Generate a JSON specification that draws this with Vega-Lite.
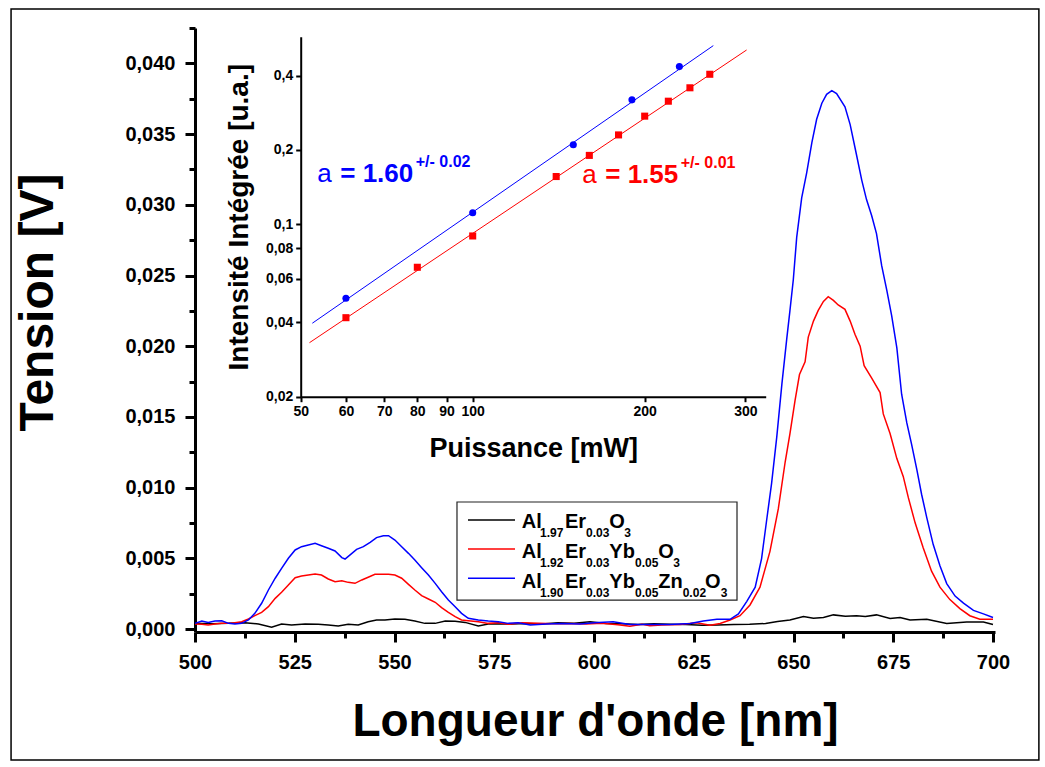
{
  "$schema": "https://vega.github.io/schema/vega-lite/v6.json",
  "width": 800,
  "height": 604,
  "autosize": {"type": "none"},
  "padding": {"left": 195, "top": 28, "right": 50, "bottom": 135},
  "background": "white",
  "config": {
    "view": {"stroke": null},
    "font": "Liberation Sans",
    "axis": {"grid": false, "domainColor": "black", "tickColor": "black", "labelColor": "black", "titleColor": "black", "labelFontWeight": "bold", "titleFontWeight": "bold", "labelFont": "Liberation Sans", "titleFont": "Liberation Sans", "labelFlush": false, "labelOverlap": false}
  },
  "datasets": {
    "spectra": [
      {"s":"AlEr","x":500,"y":0.00041},{"s":"AlEr","x":504.2,"y":0.00039},{"s":"AlEr","x":508.4,"y":0.00041},{"s":"AlEr","x":512.5,"y":0.00046},{"s":"AlEr","x":515.9,"y":0.00037},{"s":"AlEr","x":519.2,"y":0.00013},{"s":"AlEr","x":521.7,"y":0.00037},{"s":"AlEr","x":524.2,"y":0.0003},{"s":"AlEr","x":527.6,"y":0.00037},{"s":"AlEr","x":530.9,"y":0.00034},{"s":"AlEr","x":533.4,"y":0.0003},{"s":"AlEr","x":535.9,"y":0.00023},{"s":"AlEr","x":538.4,"y":0.00034},{"s":"AlEr","x":540.9,"y":0.0003},{"s":"AlEr","x":543.4,"y":0.00053},{"s":"AlEr","x":545.5,"y":0.00065},{"s":"AlEr","x":547.6,"y":0.00065},{"s":"AlEr","x":550.1,"y":0.00072},{"s":"AlEr","x":552.6,"y":0.0007},{"s":"AlEr","x":555.1,"y":0.00058},{"s":"AlEr","x":557.6,"y":0.00041},{"s":"AlEr","x":560.2,"y":0.00041},{"s":"AlEr","x":562.7,"y":0.00058},{"s":"AlEr","x":565.2,"y":0.00056},{"s":"AlEr","x":567.7,"y":0.00048},{"s":"AlEr","x":571,"y":0.00023},{"s":"AlEr","x":573.5,"y":0.00037},{"s":"AlEr","x":576.9,"y":0.00039},{"s":"AlEr","x":579.4,"y":0.00037},{"s":"AlEr","x":583,"y":0.0004},{"s":"AlEr","x":587,"y":0.00036},{"s":"AlEr","x":591,"y":0.00045},{"s":"AlEr","x":595,"y":0.00042},{"s":"AlEr","x":599,"y":0.00052},{"s":"AlEr","x":603,"y":0.0004},{"s":"AlEr","x":607,"y":0.00038},{"s":"AlEr","x":611,"y":0.00033},{"s":"AlEr","x":615,"y":0.00038},{"s":"AlEr","x":619,"y":0.00035},{"s":"AlEr","x":623,"y":0.00033},{"s":"AlEr","x":627,"y":0.00028},{"s":"AlEr","x":631,"y":0.0003},{"s":"AlEr","x":635,"y":0.00033},{"s":"AlEr","x":639,"y":0.00035},{"s":"AlEr","x":643,"y":0.0004},{"s":"AlEr","x":646,"y":0.00055},{"s":"AlEr","x":649.1,"y":0.00065},{"s":"AlEr","x":652.5,"y":0.0009},{"s":"AlEr","x":655,"y":0.00078},{"s":"AlEr","x":657.5,"y":0.00083},{"s":"AlEr","x":660,"y":0.00101},{"s":"AlEr","x":663,"y":0.00092},{"s":"AlEr","x":665.8,"y":0.00095},{"s":"AlEr","x":668,"y":0.0009},{"s":"AlEr","x":670.8,"y":0.00101},{"s":"AlEr","x":674.2,"y":0.00075},{"s":"AlEr","x":676.7,"y":0.00083},{"s":"AlEr","x":679.2,"y":0.00065},{"s":"AlEr","x":683.4,"y":0.0007},{"s":"AlEr","x":688.4,"y":0.0004},{"s":"AlEr","x":693.4,"y":0.00051},{"s":"AlEr","x":697.6,"y":0.00051},{"s":"AlEr","x":700,"y":0.00033},
      {"s":"AlErYb","x":500,"y":0.00037},{"s":"AlErYb","x":501.7,"y":0.00034},{"s":"AlErYb","x":503.3,"y":0.0003},{"s":"AlErYb","x":505,"y":0.00037},{"s":"AlErYb","x":506.7,"y":0.00041},{"s":"AlErYb","x":508.4,"y":0.00041},{"s":"AlErYb","x":510,"y":0.00046},{"s":"AlErYb","x":511.7,"y":0.00053},{"s":"AlErYb","x":513.4,"y":0.00072},{"s":"AlErYb","x":515,"y":0.00096},{"s":"AlErYb","x":516.7,"y":0.00119},{"s":"AlErYb","x":518.4,"y":0.00159},{"s":"AlErYb","x":520.1,"y":0.00218},{"s":"AlErYb","x":521.7,"y":0.00261},{"s":"AlErYb","x":523.4,"y":0.00312},{"s":"AlErYb","x":525.1,"y":0.00364},{"s":"AlErYb","x":526.7,"y":0.00376},{"s":"AlErYb","x":528.4,"y":0.00383},{"s":"AlErYb","x":530.1,"y":0.0039},{"s":"AlErYb","x":531.7,"y":0.00383},{"s":"AlErYb","x":533.4,"y":0.00355},{"s":"AlErYb","x":535.1,"y":0.00336},{"s":"AlErYb","x":536.8,"y":0.00343},{"s":"AlErYb","x":538.4,"y":0.00331},{"s":"AlErYb","x":540.1,"y":0.00324},{"s":"AlErYb","x":541.8,"y":0.00348},{"s":"AlErYb","x":543.4,"y":0.00367},{"s":"AlErYb","x":545.1,"y":0.00388},{"s":"AlErYb","x":546.8,"y":0.00388},{"s":"AlErYb","x":548.5,"y":0.00388},{"s":"AlErYb","x":550.1,"y":0.00383},{"s":"AlErYb","x":551.8,"y":0.0036},{"s":"AlErYb","x":553.5,"y":0.00317},{"s":"AlErYb","x":555.1,"y":0.00277},{"s":"AlErYb","x":556.8,"y":0.00237},{"s":"AlErYb","x":558.5,"y":0.00213},{"s":"AlErYb","x":560.2,"y":0.0019},{"s":"AlErYb","x":561.8,"y":0.00152},{"s":"AlErYb","x":563.5,"y":0.00119},{"s":"AlErYb","x":565.2,"y":0.00088},{"s":"AlErYb","x":566.8,"y":0.00065},{"s":"AlErYb","x":568.5,"y":0.0006},{"s":"AlErYb","x":571,"y":0.00053},{"s":"AlErYb","x":573.5,"y":0.00041},{"s":"AlErYb","x":576,"y":0.00046},{"s":"AlErYb","x":578.5,"y":0.00034},{"s":"AlErYb","x":582,"y":0.00045},{"s":"AlErYb","x":586,"y":0.00042},{"s":"AlErYb","x":590,"y":0.00038},{"s":"AlErYb","x":594,"y":0.0004},{"s":"AlErYb","x":598,"y":0.00036},{"s":"AlErYb","x":602,"y":0.00042},{"s":"AlErYb","x":606,"y":0.00032},{"s":"AlErYb","x":609,"y":0.00021},{"s":"AlErYb","x":612,"y":0.00035},{"s":"AlErYb","x":614,"y":0.00025},{"s":"AlErYb","x":617,"y":0.0003},{"s":"AlErYb","x":621.5,"y":0.00033},{"s":"AlErYb","x":625.7,"y":0.00045},{"s":"AlErYb","x":629.1,"y":0.00027},{"s":"AlErYb","x":631.6,"y":0.0004},{"s":"AlErYb","x":634.1,"y":0.00065},{"s":"AlErYb","x":636.6,"y":0.00095},{"s":"AlErYb","x":639.1,"y":0.00171},{"s":"AlErYb","x":641.6,"y":0.00297},{"s":"AlErYb","x":644.1,"y":0.0055},{"s":"AlErYb","x":646.2,"y":0.00852},{"s":"AlErYb","x":647.9,"y":0.0118},{"s":"AlErYb","x":649.1,"y":0.0138},{"s":"AlErYb","x":650.4,"y":0.0162},{"s":"AlErYb","x":651.5,"y":0.018},{"s":"AlErYb","x":652.9,"y":0.0189},{"s":"AlErYb","x":653.7,"y":0.02065},{"s":"AlErYb","x":655,"y":0.02178},{"s":"AlErYb","x":656.2,"y":0.02254},{"s":"AlErYb","x":657.5,"y":0.02317},{"s":"AlErYb","x":658.7,"y":0.0235},{"s":"AlErYb","x":660,"y":0.02324},{"s":"AlErYb","x":661.2,"y":0.02292},{"s":"AlErYb","x":662.9,"y":0.02261},{"s":"AlErYb","x":664.2,"y":0.02178},{"s":"AlErYb","x":665.4,"y":0.02085},{"s":"AlErYb","x":666.7,"y":0.02001},{"s":"AlErYb","x":667.7,"y":0.01863},{"s":"AlErYb","x":669.6,"y":0.01774},{"s":"AlErYb","x":671.7,"y":0.01673},{"s":"AlErYb","x":672.5,"y":0.01522},{"s":"AlErYb","x":674.2,"y":0.01383},{"s":"AlErYb","x":675.9,"y":0.01206},{"s":"AlErYb","x":677.5,"y":0.0108},{"s":"AlErYb","x":678.8,"y":0.00928},{"s":"AlErYb","x":680.5,"y":0.0075},{"s":"AlErYb","x":682.5,"y":0.00575},{"s":"AlErYb","x":684.6,"y":0.0041},{"s":"AlErYb","x":686.7,"y":0.00297},{"s":"AlErYb","x":689.2,"y":0.00209},{"s":"AlErYb","x":691.7,"y":0.00145},{"s":"AlErYb","x":694.2,"y":0.00095},{"s":"AlErYb","x":696.7,"y":0.0007},{"s":"AlErYb","x":700,"y":0.0007},
      {"s":"AlErYbZn","x":500,"y":0.00041},{"s":"AlErYbZn","x":501.7,"y":0.00058},{"s":"AlErYbZn","x":503.3,"y":0.00048},{"s":"AlErYbZn","x":505,"y":0.00058},{"s":"AlErYbZn","x":506.7,"y":0.0006},{"s":"AlErYbZn","x":508.4,"y":0.00041},{"s":"AlErYbZn","x":510,"y":0.00037},{"s":"AlErYbZn","x":511.7,"y":0.00041},{"s":"AlErYbZn","x":513.4,"y":0.00065},{"s":"AlErYbZn","x":515,"y":0.00112},{"s":"AlErYbZn","x":516.7,"y":0.00183},{"s":"AlErYbZn","x":518.4,"y":0.00277},{"s":"AlErYbZn","x":520.1,"y":0.0036},{"s":"AlErYbZn","x":521.7,"y":0.0043},{"s":"AlErYbZn","x":523.4,"y":0.00501},{"s":"AlErYbZn","x":525.1,"y":0.0056},{"s":"AlErYbZn","x":526.7,"y":0.00583},{"s":"AlErYbZn","x":528.4,"y":0.00595},{"s":"AlErYbZn","x":530.1,"y":0.00607},{"s":"AlErYbZn","x":531.7,"y":0.0059},{"s":"AlErYbZn","x":533.4,"y":0.00572},{"s":"AlErYbZn","x":535.1,"y":0.00553},{"s":"AlErYbZn","x":536.8,"y":0.00506},{"s":"AlErYbZn","x":537.6,"y":0.00496},{"s":"AlErYbZn","x":538.8,"y":0.00524},{"s":"AlErYbZn","x":540.5,"y":0.00564},{"s":"AlErYbZn","x":542.2,"y":0.00583},{"s":"AlErYbZn","x":543.9,"y":0.00614},{"s":"AlErYbZn","x":545.5,"y":0.00647},{"s":"AlErYbZn","x":547.2,"y":0.00661},{"s":"AlErYbZn","x":548.5,"y":0.00661},{"s":"AlErYbZn","x":550.1,"y":0.0063},{"s":"AlErYbZn","x":551.8,"y":0.00583},{"s":"AlErYbZn","x":553.5,"y":0.00536},{"s":"AlErYbZn","x":555.1,"y":0.00489},{"s":"AlErYbZn","x":556.8,"y":0.00435},{"s":"AlErYbZn","x":558.5,"y":0.00383},{"s":"AlErYbZn","x":560.2,"y":0.00324},{"s":"AlErYbZn","x":561.8,"y":0.00265},{"s":"AlErYbZn","x":563.5,"y":0.00206},{"s":"AlErYbZn","x":565.2,"y":0.00159},{"s":"AlErYbZn","x":566.8,"y":0.00112},{"s":"AlErYbZn","x":568.5,"y":0.00077},{"s":"AlErYbZn","x":571,"y":0.00065},{"s":"AlErYbZn","x":573.5,"y":0.00058},{"s":"AlErYbZn","x":576,"y":0.00053},{"s":"AlErYbZn","x":578.5,"y":0.00041},{"s":"AlErYbZn","x":581,"y":0.00045},{"s":"AlErYbZn","x":584,"y":0.00029},{"s":"AlErYbZn","x":588,"y":0.00036},{"s":"AlErYbZn","x":592,"y":0.0004},{"s":"AlErYbZn","x":596.5,"y":0.00036},{"s":"AlErYbZn","x":600,"y":0.00045},{"s":"AlErYbZn","x":604.8,"y":0.00052},{"s":"AlErYbZn","x":609,"y":0.00033},{"s":"AlErYbZn","x":614,"y":0.00033},{"s":"AlErYbZn","x":619,"y":0.00033},{"s":"AlErYbZn","x":624.1,"y":0.0004},{"s":"AlErYbZn","x":627.4,"y":0.00057},{"s":"AlErYbZn","x":630.8,"y":0.0007},{"s":"AlErYbZn","x":634.1,"y":0.0007},{"s":"AlErYbZn","x":636.2,"y":0.00108},{"s":"AlErYbZn","x":638.3,"y":0.00197},{"s":"AlErYbZn","x":640.4,"y":0.00297},{"s":"AlErYbZn","x":642,"y":0.00499},{"s":"AlErYbZn","x":643.3,"y":0.00777},{"s":"AlErYbZn","x":644.5,"y":0.01029},{"s":"AlErYbZn","x":645.8,"y":0.01358},{"s":"AlErYbZn","x":647.1,"y":0.01736},{"s":"AlErYbZn","x":648.3,"y":0.0205},{"s":"AlErYbZn","x":649.1,"y":0.0225},{"s":"AlErYbZn","x":649.95,"y":0.0247},{"s":"AlErYbZn","x":650.8,"y":0.0277},{"s":"AlErYbZn","x":652.05,"y":0.03049},{"s":"AlErYbZn","x":653.3,"y":0.03226},{"s":"AlErYbZn","x":654.6,"y":0.0344},{"s":"AlErYbZn","x":655.8,"y":0.03605},{"s":"AlErYbZn","x":657.1,"y":0.03718},{"s":"AlErYbZn","x":658.3,"y":0.03781},{"s":"AlErYbZn","x":659.6,"y":0.03807},{"s":"AlErYbZn","x":660.8,"y":0.03786},{"s":"AlErYbZn","x":662.9,"y":0.03693},{"s":"AlErYbZn","x":664.2,"y":0.03567},{"s":"AlErYbZn","x":665.8,"y":0.03352},{"s":"AlErYbZn","x":667.1,"y":0.03175},{"s":"AlErYbZn","x":668.3,"y":0.03037},{"s":"AlErYbZn","x":669.6,"y":0.02923},{"s":"AlErYbZn","x":670.8,"y":0.02796},{"s":"AlErYbZn","x":672.1,"y":0.0257},{"s":"AlErYbZn","x":673.4,"y":0.02393},{"s":"AlErYbZn","x":674.6,"y":0.02216},{"s":"AlErYbZn","x":675.9,"y":0.01989},{"s":"AlErYbZn","x":677.1,"y":0.01661},{"s":"AlErYbZn","x":678.4,"y":0.01458},{"s":"AlErYbZn","x":679.6,"y":0.01307},{"s":"AlErYbZn","x":680.9,"y":0.0113},{"s":"AlErYbZn","x":682.1,"y":0.00954},{"s":"AlErYbZn","x":683.4,"y":0.00789},{"s":"AlErYbZn","x":685,"y":0.006},{"s":"AlErYbZn","x":686.7,"y":0.00449},{"s":"AlErYbZn","x":688.4,"y":0.00322},{"s":"AlErYbZn","x":690.5,"y":0.00234},{"s":"AlErYbZn","x":692.6,"y":0.00184},{"s":"AlErYbZn","x":695.1,"y":0.00133},{"s":"AlErYbZn","x":697.6,"y":0.00108},{"s":"AlErYbZn","x":700,"y":0.00083}
    ],
    "frame": [{"x": 453.9, "x2": 711.5, "y": 0.04384, "y2": -0.00925}],
    "legendBox": [{"x": 565.66, "x2": 635.84, "y": 0.00899, "y2": 0.00206}],
    "legendLines": [
      {"s": "AlEr", "x": 568.42, "x2": 580.2, "y": 0.00772},
      {"s": "AlErYb", "x": 568.42, "x2": 580.2, "y": 0.00567},
      {"s": "AlErYbZn", "x": 568.42, "x2": 580.2, "y": 0.0036}
    ],
    "legendText": [
      {"row": 1, "k": "m", "t": "Al", "x": 581.88, "y": 0.00715},
      {"row": 1, "k": "s", "t": "1.97", "x": 586.47, "y": 0.00715},
      {"row": 1, "k": "m", "t": "Er", "x": 592.73, "y": 0.00715},
      {"row": 1, "k": "s", "t": "0.03", "x": 597.99, "y": 0.00715},
      {"row": 1, "k": "m", "t": "O", "x": 603.84, "y": 0.00715},
      {"row": 1, "k": "s", "t": "3", "x": 607.59, "y": 0.00715},
      {"row": 2, "k": "m", "t": "Al", "x": 581.88, "y": 0.00503},
      {"row": 2, "k": "s", "t": "1.92", "x": 586.47, "y": 0.00503},
      {"row": 2, "k": "m", "t": "Er", "x": 592.73, "y": 0.00503},
      {"row": 2, "k": "s", "t": "0.03", "x": 597.99, "y": 0.00503},
      {"row": 2, "k": "m", "t": "Yb", "x": 603.84, "y": 0.00503},
      {"row": 2, "k": "s", "t": "0.05", "x": 610.28, "y": 0.00503},
      {"row": 2, "k": "m", "t": "O", "x": 616.12, "y": 0.00503},
      {"row": 2, "k": "s", "t": "3", "x": 619.87, "y": 0.00503},
      {"row": 3, "k": "m", "t": "Al", "x": 581.88, "y": 0.00291},
      {"row": 3, "k": "s", "t": "1.90", "x": 586.47, "y": 0.00291},
      {"row": 3, "k": "m", "t": "Er", "x": 592.73, "y": 0.00291},
      {"row": 3, "k": "s", "t": "0.03", "x": 597.99, "y": 0.00291},
      {"row": 3, "k": "m", "t": "Yb", "x": 603.84, "y": 0.00291},
      {"row": 3, "k": "s", "t": "0.05", "x": 610.28, "y": 0.00291},
      {"row": 3, "k": "m", "t": "Zn", "x": 616.12, "y": 0.00291},
      {"row": 3, "k": "s", "t": "0.02", "x": 622.23, "y": 0.00291},
      {"row": 3, "k": "m", "t": "O", "x": 627.82, "y": 0.00291},
      {"row": 3, "k": "s", "t": "3", "x": 631.75, "y": 0.00291}
    ],
    "minor": [{"x": 600, "y": 0.02}],
    "power": [
      {"s": "AlErYbZn", "p": 60, "i": 0.0501},
      {"s": "AlErYbZn", "p": 100, "i": 0.1113},
      {"s": "AlErYbZn", "p": 150, "i": 0.2099},
      {"s": "AlErYbZn", "p": 190, "i": 0.319},
      {"s": "AlErYbZn", "p": 230, "i": 0.435},
      {"s": "AlErYb", "p": 60, "i": 0.0418},
      {"s": "AlErYb", "p": 80, "i": 0.0669},
      {"s": "AlErYb", "p": 100, "i": 0.0896},
      {"s": "AlErYb", "p": 140, "i": 0.156},
      {"s": "AlErYb", "p": 160, "i": 0.19},
      {"s": "AlErYb", "p": 180, "i": 0.23},
      {"s": "AlErYb", "p": 200, "i": 0.274},
      {"s": "AlErYb", "p": 220, "i": 0.315},
      {"s": "AlErYb", "p": 240, "i": 0.357},
      {"s": "AlErYb", "p": 260, "i": 0.405}
    ],
    "fits": [
      {"s": "AlErYbZn", "p": 52.4, "i": 0.0397},
      {"s": "AlErYbZn", "p": 263.7, "i": 0.529},
      {"s": "AlErYb", "p": 51.8, "i": 0.0331},
      {"s": "AlErYb", "p": 301.6, "i": 0.508}
    ],
    "slopes": [
      {"s": "AlErYbZn", "p": 53.45, "i": 0.1486, "a": "a", "val": "= 1.60", "err": "+/- 0.02"},
      {"s": "AlErYb", "p": 155.5, "i": 0.1464, "a": "a", "val": "= 1.55", "err": "+/- 0.01"}
    ]
  },
  "layer": [
    {
      "data": {"name": "frame"},
      "mark": {"type": "rect", "filled": false, "color": "black", "strokeWidth": 1.5},
      "encoding": {
        "x": {"field": "x", "type": "quantitative", "scale": {"domain": [500, 700.5], "nice": false, "zero": false}, "axis": null},
        "x2": {"field": "x2"},
        "y": {"field": "y", "type": "quantitative", "scale": {"domain": [-0.0002, 0.0425], "nice": false, "zero": false}, "axis": null},
        "y2": {"field": "y2"}
      }
    },
    {
      "data": {"name": "spectra"},
      "mark": {"type": "line", "strokeWidth": 1.5},
      "encoding": {
        "x": {"field": "x", "type": "quantitative",
          "scale": {"domain": [500, 700.5], "nice": false, "zero": false},
          "axis": {"orient": "bottom", "title": "Longueur d'onde [nm]", "values": [500, 525, 550, 575, 600, 625, 650, 675, 700], "format": "d", "labelFontSize": 20, "titleFontSize": 46, "tickSize": 10, "tickWidth": 3, "domainWidth": 3, "labelPadding": 10, "titlePadding": 27}},
        "y": {"field": "y", "type": "quantitative",
          "scale": {"domain": [-0.0002, 0.0425], "nice": false, "zero": false},
          "axis": {"orient": "left", "title": "Tension [V]", "values": [0, 0.005, 0.01, 0.015, 0.02, 0.025, 0.03, 0.035, 0.04], "labelExpr": "replace(format(datum.value, '.3f'), '.', ',')", "labelFontSize": 20, "titleFontSize": 48, "titleY": 274, "tickSize": 10, "tickWidth": 3, "domainWidth": 3, "labelPadding": 10, "titlePadding": 62}},
        "color": {"field": "s", "type": "nominal", "scale": {"domain": ["AlEr", "AlErYb", "AlErYbZn"], "range": ["#000000", "#ff0000", "#0000ff"]}, "legend": null}
      }
    },
    {
      "data": {"name": "minor"},
      "mark": {"type": "point", "opacity": 0},
      "encoding": {
        "x": {"field": "x", "type": "quantitative",
          "scale": {"domain": [500, 700.5], "nice": false, "zero": false},
          "axis": {"orient": "bottom", "values": [512.5, 537.5, 562.5, 587.5, 612.5, 637.5, 662.5, 687.5], "labels": false, "domain": false, "tickSize": 6, "tickWidth": 3, "title": null}},
        "y": {"field": "y", "type": "quantitative",
          "scale": {"domain": [-0.0002, 0.0425], "nice": false, "zero": false},
          "axis": {"orient": "left", "values": [0.0025, 0.0075, 0.0125, 0.0175, 0.0225, 0.0275, 0.0325, 0.0375, 0.0425], "labels": false, "domain": false, "tickSize": 6, "tickWidth": 3, "title": null}}
      }
    },
    {
      "data": {"name": "legendBox"},
      "mark": {"type": "rect", "fill": "white", "stroke": "#222222", "strokeWidth": 1.2},
      "encoding": {
        "x": {"field": "x", "type": "quantitative", "scale": {"domain": [500, 700.5], "nice": false, "zero": false}, "axis": null},
        "x2": {"field": "x2"},
        "y": {"field": "y", "type": "quantitative", "scale": {"domain": [-0.0002, 0.0425], "nice": false, "zero": false}, "axis": null},
        "y2": {"field": "y2"}
      }
    },
    {
      "data": {"name": "legendLines"},
      "mark": {"type": "rule", "strokeWidth": 1.5},
      "encoding": {
        "x": {"field": "x", "type": "quantitative", "scale": {"domain": [500, 700.5], "nice": false, "zero": false}, "axis": null},
        "x2": {"field": "x2"},
        "y": {"field": "y", "type": "quantitative", "scale": {"domain": [-0.0002, 0.0425], "nice": false, "zero": false}, "axis": null},
        "color": {"field": "s", "type": "nominal", "legend": null}
      }
    },
    {
      "data": {"name": "legendText"},
      "transform": [{"filter": "datum.k === 'm'"}],
      "mark": {"type": "text", "align": "left", "baseline": "alphabetic", "fontSize": 20, "fontWeight": "bold", "color": "black"},
      "encoding": {
        "x": {"field": "x", "type": "quantitative", "scale": {"domain": [500, 700.5], "nice": false, "zero": false}, "axis": null},
        "y": {"field": "y", "type": "quantitative", "scale": {"domain": [-0.0002, 0.0425], "nice": false, "zero": false}, "axis": null},
        "text": {"field": "t"}
      }
    },
    {
      "data": {"name": "legendText"},
      "transform": [{"filter": "datum.k === 's'"}],
      "mark": {"type": "text", "align": "left", "baseline": "alphabetic", "fontSize": 12, "fontWeight": "bold", "color": "black", "dy": 9},
      "encoding": {
        "x": {"field": "x", "type": "quantitative", "scale": {"domain": [500, 700.5], "nice": false, "zero": false}, "axis": null},
        "y": {"field": "y", "type": "quantitative", "scale": {"domain": [-0.0002, 0.0425], "nice": false, "zero": false}, "axis": null},
        "text": {"field": "t"}
      }
    },
    {
      "data": {"name": "fits"},
      "mark": {"type": "line", "strokeWidth": 1},
      "encoding": {
        "x": {"field": "p", "type": "quantitative",
          "scale": {"type": "log", "domain": [50, 325.7], "range": [105.7, 570.7], "nice": false},
          "axis": {"orient": "bottom", "offset": -235.3, "values": [50, 60, 70, 80, 90, 100, 200, 300], "format": "d", "title": "Puissance [mW]", "labelFontSize": 14, "titleFontSize": 27, "tickSize": 5, "tickWidth": 2, "domainWidth": 2, "labelPadding": 3, "titlePadding": 17}},
        "y": {"field": "i", "type": "quantitative",
          "scale": {"type": "log", "domain": [0.02, 0.575], "range": [368.7, 8.7], "nice": false},
          "axis": {"orient": "left", "offset": -105.7, "values": [0.02, 0.04, 0.06, 0.08, 0.1, 0.2, 0.4], "labelExpr": "replace(format(datum.value, '~g'), '.', ',')", "title": "Intensité Intégrée [u.a.]", "labelFontSize": 14, "titleFontSize": 28, "tickSize": 5, "tickWidth": 2, "domainWidth": 2, "labelPadding": 3, "titlePadding": 12}},
        "color": {"field": "s", "type": "nominal", "legend": null}
      }
    },
    {
      "data": {"name": "power"},
      "mark": {"type": "point", "filled": true, "opacity": 1, "size": 50},
      "encoding": {
        "x": {"field": "p", "type": "quantitative", "scale": {"type": "log", "domain": [50, 325.7], "range": [105.7, 570.7], "nice": false}, "axis": null},
        "y": {"field": "i", "type": "quantitative", "scale": {"type": "log", "domain": [0.02, 0.575], "range": [368.7, 8.7], "nice": false}, "axis": null},
        "color": {"field": "s", "type": "nominal", "legend": null},
        "shape": {"field": "s", "type": "nominal", "scale": {"domain": ["AlErYb", "AlErYbZn"], "range": ["square", "circle"]}, "legend": null}
      }
    },
    {
      "data": {"name": "slopes"},
      "mark": {"type": "text", "align": "left", "baseline": "alphabetic", "fontSize": 26, "fontWeight": "normal"},
      "encoding": {
        "x": {"field": "p", "type": "quantitative", "scale": {"type": "log", "domain": [50, 325.7], "range": [105.7, 570.7], "nice": false}, "axis": null},
        "y": {"field": "i", "type": "quantitative", "scale": {"type": "log", "domain": [0.02, 0.575], "range": [368.7, 8.7], "nice": false}, "axis": null},
        "text": {"field": "a"},
        "color": {"field": "s", "type": "nominal", "legend": null}
      }
    },
    {
      "data": {"name": "slopes"},
      "mark": {"type": "text", "align": "left", "baseline": "alphabetic", "fontSize": 26, "fontWeight": "bold", "dx": 23},
      "encoding": {
        "x": {"field": "p", "type": "quantitative", "scale": {"type": "log", "domain": [50, 325.7], "range": [105.7, 570.7], "nice": false}, "axis": null},
        "y": {"field": "i", "type": "quantitative", "scale": {"type": "log", "domain": [0.02, 0.575], "range": [368.7, 8.7], "nice": false}, "axis": null},
        "text": {"field": "val"},
        "color": {"field": "s", "type": "nominal", "legend": null}
      }
    },
    {
      "data": {"name": "slopes"},
      "mark": {"type": "text", "align": "left", "baseline": "alphabetic", "fontSize": 16, "fontWeight": "bold", "dx": 98.5, "dy": -15},
      "encoding": {
        "x": {"field": "p", "type": "quantitative", "scale": {"type": "log", "domain": [50, 325.7], "range": [105.7, 570.7], "nice": false}, "axis": null},
        "y": {"field": "i", "type": "quantitative", "scale": {"type": "log", "domain": [0.02, 0.575], "range": [368.7, 8.7], "nice": false}, "axis": null},
        "text": {"field": "err"},
        "color": {"field": "s", "type": "nominal", "legend": null}
      }
    }
  ],
  "resolve": {"scale": {"x": "independent", "y": "independent"}}
}
